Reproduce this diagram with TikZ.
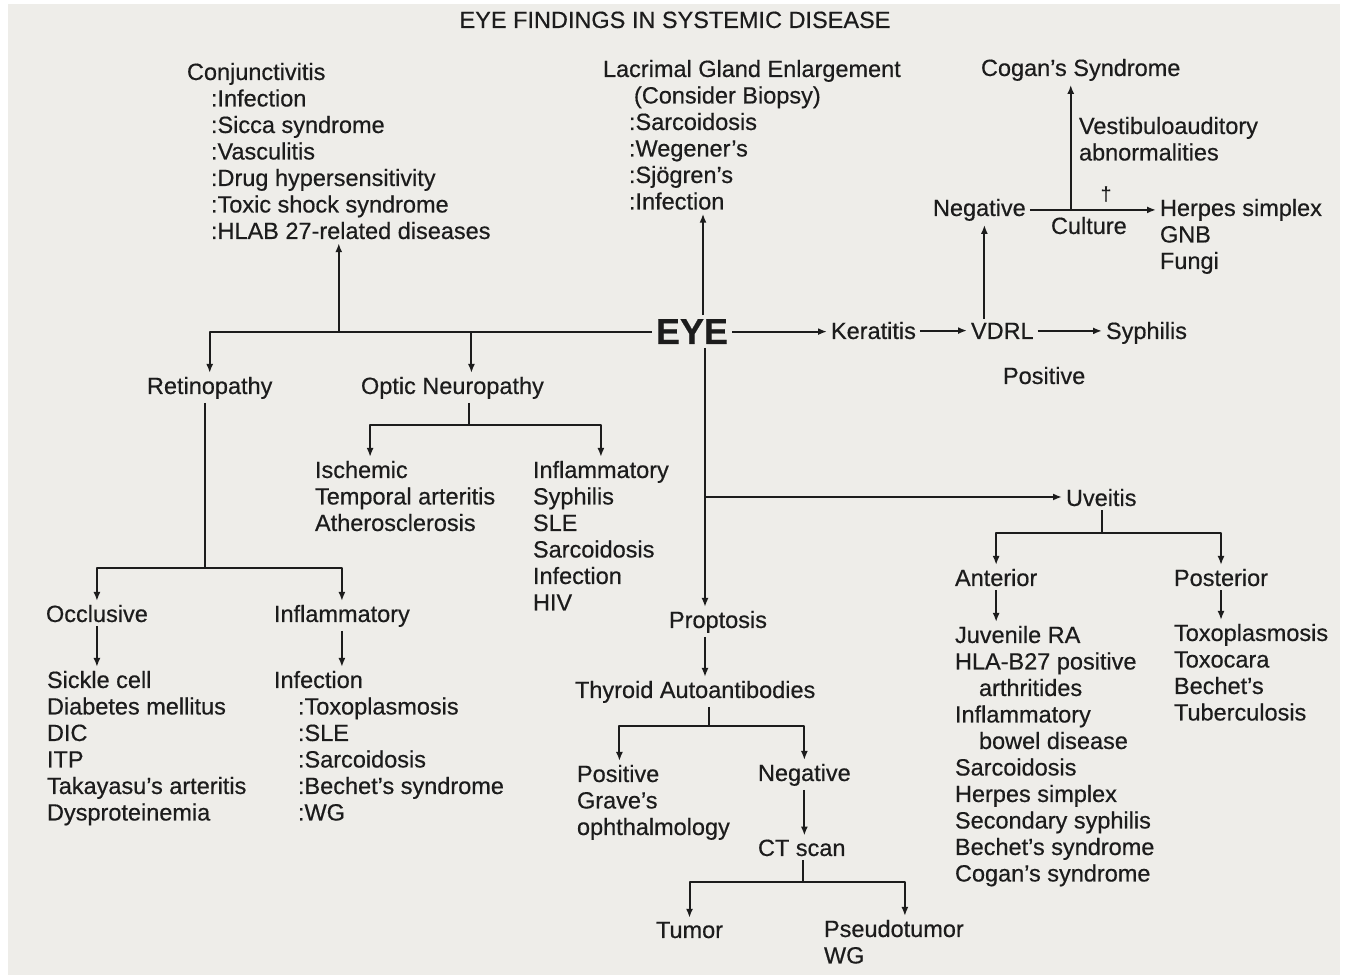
\documentclass[tikz,border=0pt]{standalone}
\usepackage{fontspec}
\setmainfont{Liberation Sans}[FakeBold=0.5]
\usepackage{tikz}
\usetikzlibrary{arrows.meta,calc}

\tikzset{
  txt/.style={font=\fontsize{23.5}{26.5}\selectfont,text=drawColor,inner sep=0pt,outer sep=4pt,align=left,anchor=base west},
  conn/.style={draw=drawColor,line width=2pt,line join=round},
  arr/.style={conn,-{Latex[length=9pt,width=7pt]}}
}
\newcommand{\subind}{\hspace*{24pt}}

\begin{document}
\begin{tikzpicture}[x=1pt,y=1pt]
\definecolor{fillColor}{RGB}{255,255,255}
\definecolor{paperColor}{RGB}{238,237,233}
\definecolor{drawColor}{RGB}{28,28,28}
\path[use as bounding box,fill=fillColor] (0,0) rectangle (1347,979);
\path[fill=paperColor] (8,4) rectangle (1340,975);

\node[txt,anchor=base] (title) at (675,951) {EYE FINDINGS IN SYSTEMIC DISEASE};
\node[txt] (conj) at (183,740) {Conjunctivitis\\\subind:Infection\\\subind:Sicca syndrome\\\subind:Vasculitis\\\subind:Drug hypersensitivity\\\subind:Toxic shock syndrome\\\subind:HLAB 27-related diseases};
\node[txt] (lacri) at (599,769.5) {Lacrimal Gland Enlargement\\\hspace*{31pt}(Consider Biopsy)\\\hspace*{26pt}:Sarcoidosis\\\hspace*{26pt}:Wegener's\\\hspace*{26pt}:Sjögren's\\\hspace*{26pt}:Infection};
\node[txt,font=\fontsize{36}{40}\selectfont\bfseries,anchor=base] (eye) at (692,635) {EYE};
\node[txt] (kera) at (827,640) {Keratitis};
\node[txt] (vdrl) at (967,640) {VDRL};
\node[txt] (syph) at (1102,640) {Syphilis};
\node[txt] (posV) at (999,595) {Positive};
\node[txt] (neg) at (929,763) {Negative};
\node[txt] (herpes) at (1156,710) {Herpes simplex\\GNB\\Fungi};
\node[txt] (cult) at (1047,745) {Culture};
\node[txt,font=\fontsize{19}{19}\selectfont,anchor=center] (plus) at (1106,785) {†};
\node[txt] (cogan) at (977,903) {Cogan's Syndrome};
\node[txt] (vestib) at (1075,818.5) {Vestibuloauditory\\abnormalities};
\node[txt] (retino) at (143,585) {Retinopathy};
\node[txt] (optic) at (357,585) {Optic Neuropathy};
\node[txt] (isch) at (311,448) {Ischemic\\Temporal arteritis\\Atherosclerosis};
\node[txt] (inflO) at (529,368.5) {Inflammatory\\Syphilis\\SLE\\Sarcoidosis\\Infection\\HIV};
\node[txt] (occl) at (42,357) {Occlusive};
\node[txt] (inflR) at (270,357) {Inflammatory};
\node[txt] (sickle) at (43,158.5) {Sickle cell\\Diabetes mellitus\\DIC\\ITP\\Takayasu's arteritis\\Dysproteinemia};
\node[txt] (infect) at (270,158.5) {Infection\\\subind:Toxoplasmosis\\\subind:SLE\\\subind:Sarcoidosis\\\subind:Bechet's syndrome\\\subind:WG};
\node[txt] (uveit) at (1062,473) {Uveitis};
\node[txt] (anter) at (951,393) {Anterior};
\node[txt] (poster) at (1170,393) {Posterior};
\node[txt] (antlist) at (951,97.5) {Juvenile RA\\HLA-B27 positive\\\subind arthritides\\Inflammatory\\\subind bowel disease\\Sarcoidosis\\Herpes simplex\\Secondary syphilis\\Bechet's syndrome\\Cogan's syndrome};
\node[txt] (postlist) at (1170,258.5) {Toxoplasmosis\\Toxocara\\Bechet's\\Tuberculosis};
\node[txt] (propt) at (665,351) {Proptosis};
\node[txt] (thyr) at (571,281) {Thyroid Autoantibodies};
\node[txt] (posT) at (573,144) {Positive\\Grave's\\ophthalmology};
\node[txt] (negT) at (754,198) {Negative};
\node[txt] (ct) at (754,123) {CT scan};
\node[txt] (tumor) at (652,41) {Tumor};
\node[txt] (pseudo) at (820,15.5) {Pseudotumor\\WG};

\coordinate (eu) at ([xshift=11pt]eye.north);
\coordinate (ev) at (705,482);
\coordinate (on) at ([xshift=19pt]optic.north);
\coordinate (rj) at (205,411);
\coordinate (oj) at (469,554);
\coordinate (uj) at (1102,446);
\coordinate (tj) at (709,253);
\coordinate (cj) at (803,97);
\coordinate (vn) at ([xshift=5pt]neg.south);
\path (neg.east) ++(41pt,0) coordinate (cc);

\draw[arr] (eye.east) -- (eye.east -| kera.west);
\draw[arr] (kera.east) -- (kera.east -| vdrl.west);
\draw[arr] (vdrl.east) -- (vdrl.east -| syph.west);
\draw[arr] (vn |- vdrl.north) -- (vn);
\draw[arr] (neg.east) -- (neg.east -| herpes.west);
\draw[arr] (cc) -- (cc |- cogan.south);

\draw[arr] (eu) -- (eu |- lacri.south);
\draw[arr] (eye.west) -| (retino.north);
\draw[arr] (on |- eye.west) -- (on);
\draw[arr] (conj.south |- eye.west) -- (conj.south);

\draw[conn] (rj |- retino.south) -- (rj);
\draw[arr] (rj) -| (occl.north);
\draw[arr] (rj) -| (inflR.north);
\draw[arr] (occl.south) -- (occl.south |- sickle.north);
\draw[arr] (inflR.south) -- (inflR.south |- infect.north);

\draw[conn] (oj |- optic.south) -- (oj);
\draw[arr] (oj) -| ([xshift=-35pt]isch.north);
\draw[arr] (oj) -| (inflO.north);

\draw[arr] (ev |- eye.south) -- (ev |- propt.north);
\draw[arr] (ev) -- (ev -| uveit.west);
\draw[conn] (uj |- uveit.south) -- (uj);
\draw[arr] (uj) -| (anter.north);
\draw[arr] (uj) -| (poster.north);
\draw[arr] (anter.south) -- (anter.south |- antlist.north);
\draw[arr] (poster.south) -- (poster.south |- postlist.north);

\draw[arr] (ev |- propt.south) -- (ev |- thyr.north);
\draw[conn] (tj |- thyr.south) -- (tj);
\draw[arr] (tj) -| ([xshift=-34pt]posT.north);
\draw[arr] (tj) -| (negT.north);
\draw[arr] (negT.south) -- (negT.south |- ct.north);
\draw[conn] (cj |- ct.south) -- (cj);
\draw[arr] (cj) -| (tumor.north);
\draw[arr] (cj) -| ([xshift=11pt]pseudo.north);
\end{tikzpicture}
\end{document}
